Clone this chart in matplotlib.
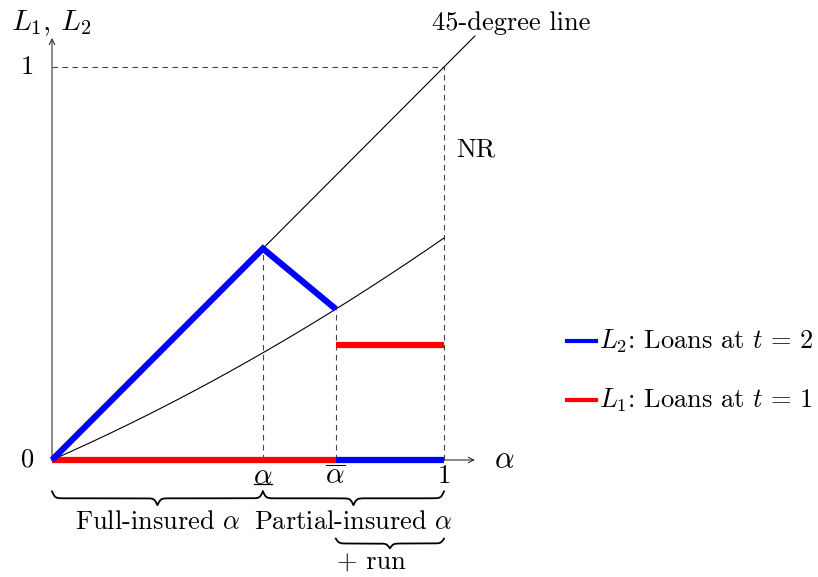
import numpy as np
import matplotlib
matplotlib.use("Agg")
import matplotlib.pyplot as plt

plt.rcParams['font.family'] = 'serif'
plt.rcParams['font.serif'] = ['cmr10', 'DejaVu Serif']
plt.rcParams['mathtext.fontset'] = 'cm'
plt.rcParams['axes.formatter.use_mathtext'] = True

# values
alpha_lo = 0.538      # full insurance up to here
alpha_hi = 0.724      # run threshold
L2_at_hi = 0.384      # L2 just before the run
L1_run = 0.293        # L1 with a run
line45_end = 1.079

# points on the no-run curve
curve_x = [0.0, 0.25, 0.5, 0.75, 1.0]
curve_y = [0.0, 0.118, 0.251, 0.400, 0.565]

blue = '#0000ff'
red = '#ff0000'
dash_col = '#444444'
fs = 19

fig = plt.figure(figsize=(8.18, 5.77), dpi=100)
ax = fig.add_axes([0, 0, 1, 1])
ax.set_xlim(-52 / 392, (818 - 52) / 392)
ax.set_ylim(-117 / 393, 460 / 393)
ax.axis('off')

# axes with arrows
ax.annotate('', xy=(0, 1.074), xytext=(0, 0),
            arrowprops=dict(arrowstyle='->', lw=0.8, color='#333333', shrinkA=0, shrinkB=0))
ax.annotate('', xy=(1.079, 0), xytext=(0, 0),
            arrowprops=dict(arrowstyle='->', lw=0.8, color='#333333', shrinkA=0, shrinkB=0))

# dashed guides
dkw = dict(color=dash_col, lw=0.8, ls=(0, (5, 4)), zorder=1)
ax.plot([0, 1], [1, 1], **dkw)
ax.plot([1, 1], [0, 1], **dkw)
ax.plot([alpha_lo, alpha_lo], [0, alpha_lo], **dkw)
ax.plot([alpha_hi, alpha_hi], [0, L2_at_hi], **dkw)

# 45-degree line and the curve
ax.plot([0, line45_end], [0, line45_end], color='black', lw=0.8, zorder=2)
coef = np.polyfit(curve_x, curve_y, 2)
xx = np.linspace(0, 1, 200)
ax.plot(xx, np.polyval(coef, xx), color='black', lw=0.8, zorder=2)

# loans
ax.plot([0, alpha_hi], [0, 0], color=red, lw=4.5, solid_capstyle='butt', zorder=3)
ax.plot([alpha_hi, 1], [L1_run, L1_run], color=red, lw=4.5, solid_capstyle='butt', zorder=3)
ax.plot([0, alpha_lo, alpha_hi], [0, alpha_lo, L2_at_hi], color=blue, lw=4.5,
        solid_capstyle='butt', solid_joinstyle='miter', zorder=4)
ax.plot([alpha_hi, 1], [0, 0], color=blue, lw=4.5, solid_capstyle='butt', zorder=4)

# labels
ax.text(-0.063, 0, '0', fontsize=fs, ha='center', va='center')
ax.text(-0.063, 1, '1', fontsize=fs, ha='center', va='center')
ax.text(1, -0.012, '1', fontsize=fs, ha='center', va='top')
ax.text(alpha_lo, -0.01, r'$\alpha$', fontsize=fs + 2, ha='center', va='top')
ax.plot([alpha_lo - 0.022, alpha_lo + 0.022], [-0.06, -0.06], color='black', lw=0.9)
ax.text(alpha_hi, -0.01, r'$\overline{\alpha}$', fontsize=fs + 2, ha='center', va='top')
ax.text(1.154, 0, r'$\alpha$', fontsize=fs + 3, ha='center', va='center')
ax.text(-0.105, 1.112, r'$L_1,\,L_2$', fontsize=fs + 2, ha='left', va='center')
ax.text(1.171, 1.112, '45-degree line', fontsize=fs, ha='center', va='center')
ax.text(1.03, 0.789, 'NR', fontsize=fs, ha='left', va='center')


def brace(x0, x1, y, h, beta=250.0):
    n = 1001
    x = np.linspace(x0, x1, n)
    half = x[:n // 2 + 1]
    yh = (1 / (1 + np.exp(-beta * (half - half[0])))
          + 1 / (1 + np.exp(-beta * (half - half[-1]))))
    yv = np.concatenate((yh, yh[-2::-1]))
    ax.plot(x, y - h * (yv - 0.5), color='black', lw=1.3)


brace(0, alpha_lo, -0.08, 0.035)
brace(alpha_lo, 1, -0.08, 0.035)
brace(alpha_hi, 1, -0.2, 0.025)
ax.text(alpha_lo / 2, -0.158, r'Full-insured $\alpha$', fontsize=fs, ha='center', va='center')
ax.text((alpha_lo + 1) / 2, -0.158, r'Partial-insured $\alpha$', fontsize=fs, ha='center', va='center')
ax.text(0.816, -0.262, '+ run', fontsize=fs, ha='center', va='center')

# legend
ax.plot([1.314, 1.388], [0.303, 0.303], color=blue, lw=3)
ax.text(1.395, 0.303, r'$L_2$: Loans at $t\,=\,2$', fontsize=fs, ha='left', va='center')
ax.plot([1.314, 1.388], [0.153, 0.153], color=red, lw=3)
ax.text(1.395, 0.153, r'$L_1$: Loans at $t\,=\,1$', fontsize=fs, ha='left', va='center')

fig.savefig('out.png', dpi=100)
